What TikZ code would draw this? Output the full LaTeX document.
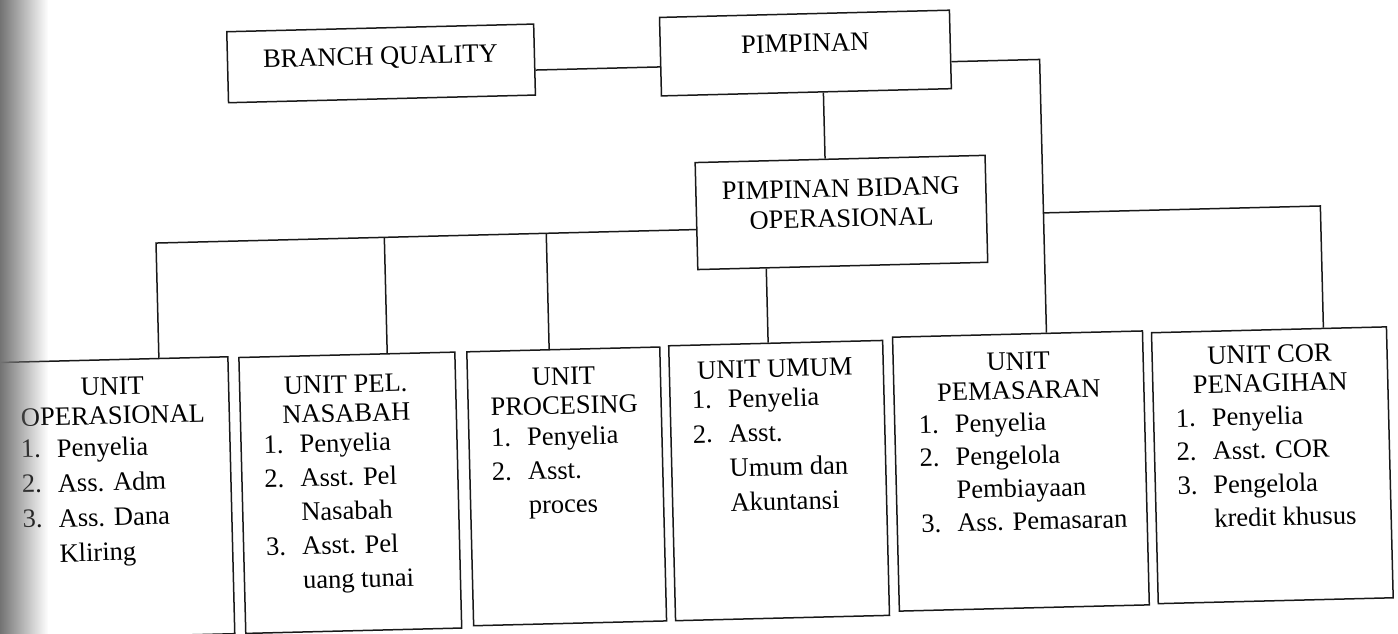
\documentclass[tikz,border=0pt]{standalone}
\usepackage{fontspec}
\setmainfont{Liberation Serif}
\usetikzlibrary{fadings}
\tikzfading[name=scanfade, left color=transparent!0, right color=transparent!100]
\tikzset{
  orgbox/.style={draw=black!90, line width=1.5pt, rectangle, inner sep=0pt},
  lbl/.style={inner sep=0pt, anchor=base, font=\fontsize{26.5}{29}\selectfont},
  lst/.style={inner sep=0pt, anchor=base west, font=\fontsize{26.5}{34}\selectfont},
  conn/.style={line width=1.5pt, draw=black!90},
}
\newcommand{\ttl}[1]{\begin{tabular}[t]{@{}c@{}}#1\end{tabular}}
\newcommand{\lstt}[1]{\begin{tabular}[t]{@{}p{36pt}@{}l@{}}#1\end{tabular}}
\begin{document}
\begin{tikzpicture}[x=1pt,y=-1pt]
\useasboundingbox (0,0) rectangle (1398,634);
\clip (0,0) rectangle (1398,634);
\fill[white] (0,0) rectangle (1398,634);
\begin{scope}[rotate around={1.43:(700,317)}, transform shape]
  % top boxes
  \node[orgbox, minimum width=307pt, minimum height=71pt] (bq) at (387.5,55.5) {};
  \node[lbl] (bqt) at (387,57) {BRANCH QUALITY};
  \node[orgbox, minimum width=290pt, minimum height=78.5pt] (p) at (812,55.75) {};
  \node[lbl] (ptxt) at (812,54.6) {PIMPINAN};
  \node[orgbox, minimum width=290pt, minimum height=107pt] (pbo) at (844,216) {};
  \node[lbl, font=\fontsize{26.5}{30}\selectfont] (pbot) at (844,200.5) {\ttl{PIMPINAN BIDANG\\OPERASIONAL}};
  % unit boxes
  \node[orgbox, minimum width=242pt, minimum height=277pt] (u1) at (106,483.5) {};
  \node[orgbox, minimum width=216pt, minimum height=276pt] (u2) at (346,484) {};
  \node[orgbox, minimum width=193pt, minimum height=274pt] (u3) at (562.5,483) {};
  \node[orgbox, minimum width=214pt, minimum height=275pt] (u4) at (775,482.5) {};
  \node[orgbox, minimum width=250pt, minimum height=274pt] (u5) at (1017,479) {};
  \node[orgbox, minimum width=235pt, minimum height=271pt] (u6) at (1268.5,479.5) {};
  % titles
  \node[lbl] (u1t) at (110.7,380.3) {\ttl{UNIT\\OPERASIONAL}};
  \node[lbl] (u2t) at (344,384) {\ttl{UNIT PEL.\\NASABAH}};
  \node[lbl] (u3t) at (562,381.6) {\ttl{UNIT\\PROCESING}};
  \node[lbl] (u4t) at (773.5,379) {UNIT UMUM};
  \node[lbl] (u5t) at (1017,378) {\ttl{UNIT\\PEMASARAN}};
  \node[lbl] (u6t) at (1268.4,377) {\ttl{UNIT COR\\PENAGIHAN}};
  % lists
  \node[lst, font=\fontsize{26.5}{35}\selectfont] (u1l) at (17.7,441) {\lstt{1. & Penyelia\\ 2. & Ass. Adm\\ 3. & Ass. Dana\\ & Kliring}};
  \node[lst] (u2l) at (260.4,442.75) {\lstt{1. & Penyelia\\ 2. & Asst. Pel\\ & Nasabah\\ 3. & Asst. Pel\\ & uang tunai}};
  \node[lst] (u3l) at (488,441.5) {\lstt{1. & Penyelia\\ 2. & Asst.\\ & proces}};
  \node[lst, font=\fontsize{26.5}{34.5}\selectfont] (u4l) at (689.7,408.5) {\lstt{1. & Penyelia\\ 2. & Asst.\\ & Umum dan\\ & Akuntansi}};
  \node[lst, font=\fontsize{26.5}{33}\selectfont] (u5l) at (916,439) {\lstt{1. & Penyelia\\ 2. & Pengelola\\ & Pembiayaan\\ 3. & Ass. Pemasaran}};
  \node[lst, font=\fontsize{26.5}{33.7}\selectfont] (u6l) at (1173,439) {\lstt{1. & Penyelia\\ 2. & Asst. COR\\ 3. & Pengelola\\ & kredit khusus}};
  % junction coordinates
  \coordinate (bqj) at (0,66);
  \coordinate (pd) at (829,0);
  \coordinate (j1) at (158,229.5);
  \coordinate (j2) at (386.4,229.5);
  \coordinate (j3) at (548.4,229.5);
  \coordinate (j4) at (767.5,0);
  \coordinate (r1) at (1046,68);
  \coordinate (r2) at (1046,221.5);
  \coordinate (r3) at (1323,221.5);
  % connectors
  \draw[conn] (bq.east |- bqj) -- (p.west |- bqj);
  \draw[conn] (p.south -| pd) -- (pbo.north -| pd);
  \draw[conn] (pbo.west |- j1) -- (j1) -- (j1 |- u1.north);
  \draw[conn] (j2) -- (j2 |- u2.north);
  \draw[conn] (j3) -- (j3 |- u3.north);
  \draw[conn] (pbo.south -| j4) -- (j4 |- u4.north);
  \draw[conn] (p.east |- r1) -- (r1) -- (r1 |- u5.north);
  \draw[conn] (r2) -- (r3) -- (r3 |- u6.north);
\end{scope}
\fill[black!55, path fading=scanfade] (0,0) rectangle (48,634);
\end{tikzpicture}
\end{document}
